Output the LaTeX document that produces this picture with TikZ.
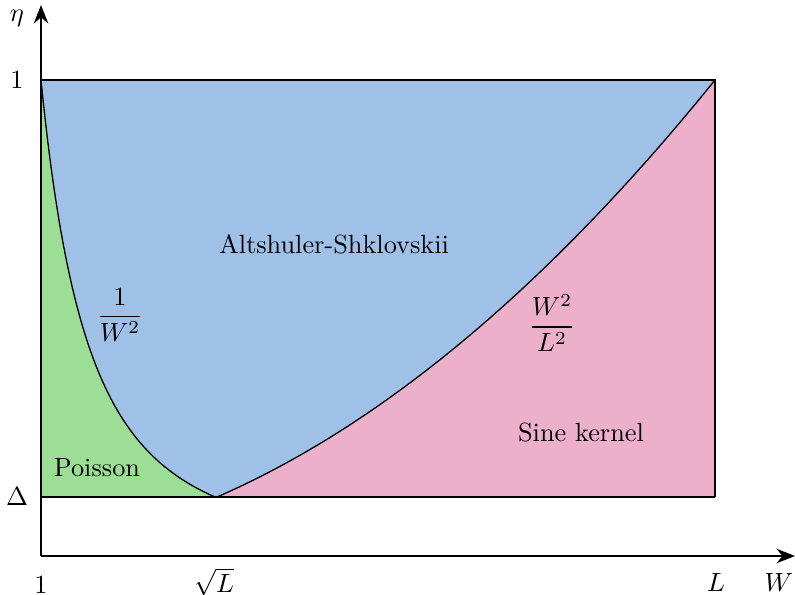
\documentclass[tikz,border=0pt]{standalone}
\usetikzlibrary{arrows.meta}
\definecolor{poissongreen}{RGB}{156,222,150}
\definecolor{asblue}{RGB}{159,192,231}
\definecolor{sinepink}{RGB}{237,176,203}
\tikzset{
  axisline/.style={line width=0.8pt,-{Stealth[length=7pt,width=5.5pt]}},
  frameline/.style={line width=0.8pt},
  curveline/.style={line width=0.5pt},
  lbl/.style={inner sep=0pt},
}
\begin{document}
\begin{tikzpicture}[x=0.38pt,y=-0.38pt]
\useasboundingbox (0,0) rectangle (795,595);
\coordinate (O) at (41,556);
\coordinate (TL) at (41,80);
\coordinate (TR) at (715,80);
\coordinate (BR) at (715,497.4);
\coordinate (BL) at (41,497.4);
\coordinate (XE) at (795,556);
\coordinate (YE) at (41,5);
% W from 1 to L=8.13, eta linear with 0 on the W axis
\def\leftcurve{plot[domain=1:2.8513,samples=80,variable=\w] ({41+(\w-1)*674/7.13},{556-476/(\w*\w)})}
\def\rightcurve{plot[domain=2.8513:8.13,samples=80,variable=\w] ({41+(\w-1)*674/7.13},{556-7.2015*(\w*\w)})}
% fills
\fill[asblue] (TL) rectangle (BR);
\fill[poissongreen] \leftcurve -- (BL) -- cycle;
\fill[sinepink] \rightcurve -- (BR) -- cycle;
% curves
\draw[curveline] \leftcurve;
\draw[curveline] \rightcurve;
% frame
\draw[frameline] (TL) -- (TR) -- (BR);
\draw[frameline] (BL) -- (BR);
% axes
\draw[axisline] (O) -- (XE);
\draw[axisline] (O) -- (YE);
% labels
\node[lbl] (eta) at (17,18) {$\eta$};
\node[lbl] (one y) at (17,80) {$1$};
\node[lbl] (delta) at (17,497) {$\Delta$};
\node[lbl] (one x) at (41,585) {$1$};
\node[lbl] (sqrtL) at (214,582) {$\sqrt{L}$};
\node[lbl] (Lx) at (716,583) {$L$};
\node[lbl] (Wx) at (779,583) {$W$};
\node[lbl] (poisson) at (97,468) {Poisson};
\node[lbl] (invW) at (120,315) {$\displaystyle\frac{1}{W^2}$};
\node[lbl] (as) at (334,244) {Altshuler-Shklovskii};
\node[lbl] (WL) at (552,323) {$\displaystyle\frac{W^2}{L^2}$};
\node[lbl] (sine) at (581,433) {Sine kernel};
\end{tikzpicture}
\end{document}
